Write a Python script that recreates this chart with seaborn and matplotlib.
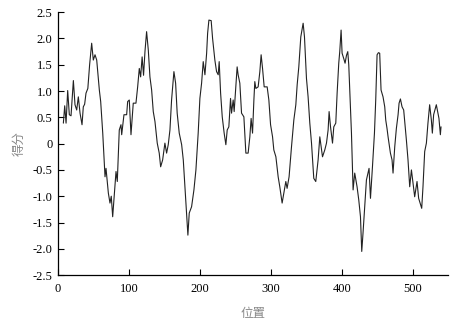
import matplotlib
matplotlib.use("Agg")
import matplotlib.pyplot as plt
import seaborn as sns
import pandas as pd

positions = [
    7.5, 9.4, 11.3, 13.6, 15.9, 18.3, 21.6, 23.9, 26.3, 28.6,
    31.0, 33.8, 35.6, 37.5, 39.4, 42.0, 44.5, 47.4, 49.7, 52.1,
    54.5, 58.2, 60.1, 63.0, 66.2, 67.6, 70.9, 73.2, 75.0, 77.0,
    78.8, 81.7, 83.5, 86.3, 88.7, 89.7, 92.9, 96.7, 98.1, 100.4,
    102.8, 106.0, 109.8, 112.2, 114.5, 116.4, 118.5, 120.5, 122.5, 124.8,
    127.2, 129.5, 131.9, 134.2, 136.6, 139.8, 142.6, 144.6, 147.4, 150.6,
    153.0, 155.3, 157.7, 160.0, 163.3, 165.7, 167.9, 170.8, 174.2, 176.5,
    178.8, 181.2, 183.0, 184.9, 188.2, 191.5, 194.3, 197.5, 199.9, 202.3,
    204.6, 207.0, 209.4, 210.8, 212.6, 215.8, 217.8, 221.0, 223.4, 225.7,
    227.1, 229.1, 231.4, 234.1, 236.5, 238.4, 240.7, 243.1, 244.5, 246.8,
    248.2, 250.2, 252.4, 253.8, 256.2, 258.6, 261.9, 264.7, 267.9, 270.3,
    272.1, 274.1, 276.0, 277.3, 278.8, 282.0, 284.4, 286.2, 288.2, 290.5,
    294.7, 297.1, 299.5, 302.3, 304.1, 307.0, 310.2, 312.5, 315.8, 318.2,
    321.0, 322.8, 325.6, 329.0, 332.3, 335.1, 337.0, 339.3, 342.1, 345.4,
    347.3, 350.1, 352.4, 354.8, 357.2, 360.4, 363.2, 366.5, 368.9, 372.7,
    375.9, 378.3, 380.6, 382.0, 384.0, 386.8, 388.6, 391.4, 393.3, 395.6,
    397.0, 398.9, 400.3, 402.6, 404.5, 406.5, 408.3, 409.7, 411.1, 413.5,
    415.8, 418.1, 421.4, 423.8, 426.2, 428.0, 429.8, 432.2, 434.6, 438.3,
    440.3, 443.1, 445.9, 447.7, 449.6, 451.5, 453.3, 455.2, 458.0, 460.4,
    461.8, 463.6, 465.1, 468.4, 470.7, 472.1, 474.5, 476.8, 479.2, 480.6,
    482.5, 484.8, 487.1, 490.9, 493.2, 495.6, 498.0, 500.3, 502.6, 505.9,
    508.2, 512.5, 514.3, 516.7, 519.1, 521.3, 523.7, 526.1, 527.5, 529.3,
    533.1, 536.8, 538.8, 539.7,
]
scores = [
    0.39, 0.72, 0.39, 1.01, 0.55, 0.53, 1.20, 0.74, 0.64, 0.89,
    0.58, 0.36, 0.70, 0.75, 0.96, 1.05, 1.50, 1.91, 1.59, 1.69,
    1.59, 1.02, 0.80, 0.20, -0.63, -0.47, -0.94, -1.13, -1.00, -1.39,
    -1.07, -0.53, -0.72, 0.26, 0.36, 0.17, 0.55, 0.55, 0.80, 0.83,
    0.17, 0.77, 0.77, 1.08, 1.43, 1.27, 1.65, 1.30, 1.75, 2.13,
    1.78, 1.27, 1.02, 0.61, 0.42, 0.01, -0.18, -0.44, -0.31, 0.01,
    -0.18, -0.02, 0.26, 0.83, 1.37, 1.15, 0.58, 0.20, -0.02, -0.31,
    -0.82, -1.32, -1.74, -1.32, -1.20, -0.88, -0.50, 0.20, 0.86, 1.15,
    1.56, 1.31, 1.72, 2.10, 2.35, 2.34, 2.00, 1.59, 1.37, 1.31,
    1.56, 0.96, 0.51, 0.20, -0.02, 0.26, 0.32, 0.86, 0.58, 0.83,
    0.61, 1.02, 1.46, 1.31, 1.15, 0.58, 0.51, -0.18, -0.18, 0.13,
    0.48, 0.20, 0.83, 1.18, 1.05, 1.08, 1.37, 1.69, 1.43, 1.08,
    1.08, 0.83, 0.36, 0.13, -0.12, -0.25, -0.63, -0.82, -1.13, -0.94,
    -0.72, -0.85, -0.63, -0.06, 0.45, 0.74, 1.12, 1.46, 2.03, 2.29,
    2.03, 1.24, 0.89, 0.39, 0.01, -0.66, -0.72, -0.31, 0.13, -0.25,
    -0.12, 0.01, 0.26, 0.61, 0.32, 0.01, 0.32, 0.39, 0.96, 1.53,
    1.75, 2.16, 1.72, 1.62, 1.53, 1.68, 1.75, 1.50, 1.02, 0.20,
    -0.88, -0.56, -0.82, -1.07, -1.39, -2.05, -1.70, -1.20, -0.69, -0.47,
    -1.04, -0.44, 0.20, 0.83, 1.69, 1.73, 1.72, 1.02, 0.89, 0.70,
    0.45, 0.29, 0.13, -0.18, -0.31, -0.56, -0.06, 0.29, 0.55, 0.77,
    0.85, 0.70, 0.64, 0.07, -0.31, -0.82, -0.50, -0.75, -1.01, -0.72,
    -1.04, -1.23, -0.82, -0.15, 0.01, 0.39, 0.74, 0.45, 0.20, 0.55,
    0.74, 0.48, 0.17, 0.32,
]
x_ticks = [0, 100, 200, 300, 400, 500]
y_ticks = [-2.5, -2.0, -1.5, -1.0, -0.5, 0, 0.5, 1.0, 1.5, 2.0, 2.5]
y_tick_labels = ["-2.5", "-2.0", "-1.5", "-1.0", "-0.5", "0", "0.5", "1.0", "1.5", "2.0", "2.5"]
x_label = "位置"
y_label = "得分"

sns.set_style("ticks")
plt.rcParams['font.family'] = ['Liberation Serif', 'Noto Sans CJK SC', 'DejaVu Sans']

df = pd.DataFrame({"pos": positions, "score": scores})

fig = plt.figure(figsize=(4.57, 3.21), dpi=100)
ax = fig.add_axes([0.127, 0.143, 0.854, 0.819])
sns.lineplot(data=df, x="pos", y="score", ax=ax, color="#222222", linewidth=0.8)

ax.set_xlim(0, 550)
ax.set_ylim(-2.5, 2.5)
ax.set_xticks(x_ticks)
ax.set_xticklabels([str(t) for t in x_ticks])
ax.set_yticks(y_ticks)
ax.set_yticklabels(y_tick_labels)
ax.tick_params(axis='both', direction='in', length=4, width=0.8, labelsize=9, colors='black')
ax.tick_params(axis='x', pad=5.5)
ax.tick_params(axis='y', pad=4)
for lab in ax.get_xticklabels() + ax.get_yticklabels():
    lab.set_family('Liberation Serif')

sns.despine(ax=ax, top=True, right=True)
for s in ("left", "bottom"):
    ax.spines[s].set_linewidth(0.9)
    ax.spines[s].set_color("black")

ax.set_xlabel(x_label, family=['Noto Sans CJK SC', 'DejaVu Sans'], fontsize=9, color="#8a8a8a", labelpad=9)
ax.set_ylabel(y_label, family=['Noto Sans CJK SC', 'DejaVu Sans'], fontsize=9, color="#8a8a8a", labelpad=5)

fig.savefig("out.png", dpi=100)
